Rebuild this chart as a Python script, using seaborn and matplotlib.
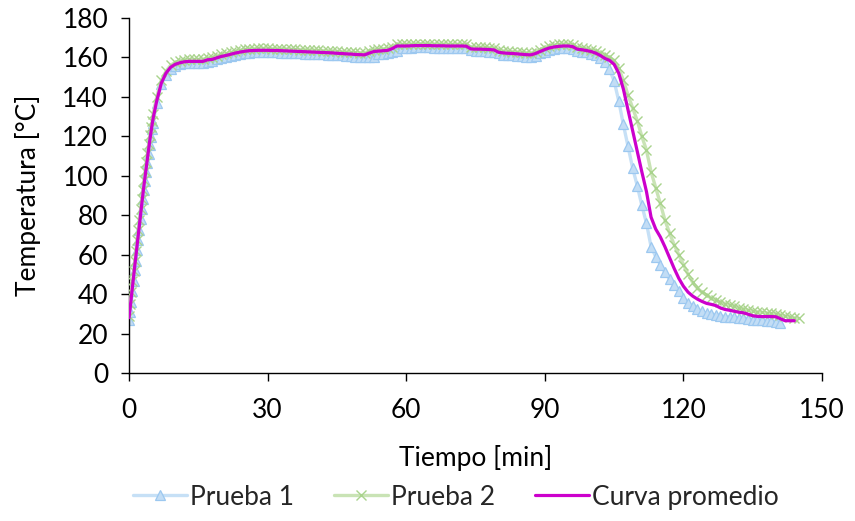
import matplotlib
matplotlib.use("Agg")
import matplotlib.pyplot as plt
import seaborn as sns
import numpy as np
import pandas as pd

# Sampling times (min): every 15 s during the heat-up, then once a minute
t_rise = [0, 0.25, 0.5, 0.75, 1.0, 1.25, 1.5, 1.75, 2.0, 2.25, 2.5,
          2.75, 3.0, 3.25, 3.5, 3.75, 4.0, 4.25, 4.5, 4.75, 5.0, 5.25]

# Temperature readings (°C) at those times
prueba_1 = [
    # heat-up, every 15 s
    27, 31, 36, 41.5, 46.5, 52, 57, 62.5, 67.5, 72.5, 78,
    83, 88, 93, 97.5, 102, 106.5, 111, 115.5, 119.5, 123.5, 127,
    # from 6 min on, one reading per minute
    137, 146.5, 151, 154,
    155.5, 156.5, 157, 157, 157, 157, 157.2, 157.5, 158, 159,
    159.5, 160, 160.6, 161.2, 161.7, 162.1, 162.4, 162.5, 162.6, 162.6,
    162.6, 162.5, 162.5, 162.4, 162.3, 162.2, 162.1, 162, 161.9, 161.8,
    161.7, 161.6, 161.5, 161.4, 161.3, 161.1, 161, 160.8, 160.6, 160.4,
    160.2, 160, 160, 160.2, 161.5, 161.8, 162.2, 162.6, 163.5, 164.8,
    165, 165, 165.1, 165.1, 165.1, 165.1, 165, 165, 165, 165,
    164.9, 164.9, 164.9, 164.8, 164, 163.2, 163.2, 163.1, 163, 162.8,
    162, 161.3, 161.1, 161, 160.8, 160.6, 160.4, 160.2, 160.8, 162,
    163, 163.8, 164.3, 164.6, 164.8, 164.8, 164.4, 163.2, 162.9, 162.5,
    161.8, 161, 159.8, 157.5, 154, 148, 138, 126, 115, 104,
    95, 85, 76, 64, 59, 55, 51, 47.5, 44.5, 41.5,
    38, 35.5, 33.8, 32.5, 31.2, 30.3, 30, 29.5, 29, 28.6,
    28.4, 28.2, 28, 27.7, 27.5, 27.1, 26.9, 26.8, 26.5, 26.2,
    25.8, 25.3,
]

prueba_2 = [
    29, 35, 41, 46.5, 51.5, 57, 62, 67.5, 72.5, 77.5, 83,
    88, 93, 98, 102.5, 107, 111.5, 116, 120.5, 124.5, 128, 131.5,
    140, 148.5, 153, 156,
    157.5, 158.3, 158.8, 159, 159, 159, 159.1, 159.8, 160, 160.8,
    161.5, 162, 162.6, 163.2, 163.7, 164.1, 164.4, 164.5, 164.6, 164.6,
    164.6, 164.5, 164.5, 164.4, 164.3, 164.2, 164.1, 164, 163.9, 163.8,
    163.7, 163.6, 163.5, 163.4, 163.3, 163.1, 163, 162.8, 162.7, 162.5,
    162.4, 162.3, 163.2, 164, 164.2, 164.4, 164.6, 165.5, 166.6, 166.7,
    166.7, 166.8, 166.9, 166.9, 166.9, 166.9, 166.8, 166.8, 166.8, 166.7,
    166.7, 166.7, 166.7, 166.6, 165.3, 165.2, 165.2, 165.1, 165, 164.8,
    163.6, 163.3, 163.1, 163, 162.8, 162.6, 162.4, 162.3, 163, 164,
    165, 165.8, 166.3, 166.6, 166.8, 166.8, 166.5, 165.2, 164.9, 164.5,
    164, 163.4, 162.4, 161.2, 160, 158.5, 154.5, 148.5, 141, 134.5,
    128, 120, 113, 102, 94, 86, 77.5, 71, 65, 60,
    55, 50, 46, 43, 41, 39.5, 38, 37, 36, 35.2,
    34.5, 34, 33.2, 32.6, 32, 31.5, 31.1, 30.8, 30.5, 30.3,
    30, 29.5, 29, 28.5, 28, 27.7,
]

curva_promedio = [
    28, 33, 38.5, 44, 49, 54.5, 59.5, 65, 70, 75, 80.5,
    85.5, 90.5, 95.5, 100, 104.5, 109, 113.5, 118, 122, 126, 129.5,
    138, 147, 152, 155,
    156.5, 157.3, 157.8, 158, 158, 158, 158, 158.8, 159, 159.8,
    160.5, 161, 161.6, 162.2, 162.7, 163.1, 163.4, 163.5, 163.6, 163.6,
    163.6, 163.5, 163.5, 163.4, 163.3, 163.2, 163.1, 163.0, 162.9, 162.8,
    162.7, 162.6, 162.5, 162.4, 162.3, 162.1, 162.0, 161.8, 161.7, 161.5,
    161.4, 161.3, 162.2, 163.0, 163.2, 163.4, 163.6, 164.5, 165.8, 165.8,
    165.8, 165.9, 166.0, 166.0, 166.0, 166.0, 165.9, 165.9, 165.9, 165.8,
    165.8, 165.8, 165.8, 165.7, 164.3, 164.2, 164.2, 164.1, 164.0, 163.8,
    162.6, 162.3, 162.1, 162.0, 161.8, 161.6, 161.4, 161.3, 162.0, 163.0,
    164.0, 164.8, 165.3, 165.6, 165.8, 165.8, 165.5, 164.2, 163.9, 163.5,
    163.0, 162.2, 161.0, 159.5, 158.5, 156.5, 152, 144, 133.5, 123,
    112.5, 102, 92, 79, 73, 69, 64, 58.5, 53, 48,
    44, 41, 39, 37.5, 36.3, 35.3, 34.8, 34.2, 33, 32.2,
    31.8, 31.3, 30.8, 30.5, 29.8, 29, 28.7, 28.6, 28.6, 28.6,
    28.5, 27.5, 26.5, 26.5, 26.5,
]

x_ticks = [0, 30, 60, 90, 120, 150]
y_ticks = list(range(0, 181, 20))


def sample_times(values):
    """Heat-up samples every 15 s, then one per minute starting at 6 min."""
    n_after = len(values) - len(t_rise)
    return t_rise + list(range(6, 6 + n_after))


sns.set_theme(style="white")
plt.rcParams["font.family"] = ["Lato", "DejaVu Sans"]

fs = 19
fig = plt.figure(figsize=(8.55, 5.21), dpi=100)
ax = fig.add_axes([0.1509, 0.2841, 0.8105, 0.6814])

df1 = pd.DataFrame({"t": sample_times(prueba_1), "T": prueba_1})
df2 = pd.DataFrame({"t": sample_times(prueba_2), "T": prueba_2})
dfm = pd.DataFrame({"t": sample_times(curva_promedio), "T": curva_promedio})

sns.lineplot(data=df1, x="t", y="T", ax=ax, color="#C6E0F6", linewidth=2.4,
             marker="^", markersize=7.5, markerfacecolor="#C2DDF5",
             markeredgecolor="#9CC8F0", markeredgewidth=0.9,
             label="Prueba 1", zorder=2)
sns.lineplot(data=df2, x="t", y="T", ax=ax, color="#C9E3B5", linewidth=2.4,
             marker="x", markersize=6.5, markeredgecolor="#A9D38C",
             markeredgewidth=1.0, label="Prueba 2", zorder=3)
sns.lineplot(data=dfm, x="t", y="T", ax=ax, color="#CC00CC", linewidth=2.3,
             label="Curva promedio", zorder=4)

ax.set_xlim(0, 150)
ax.set_ylim(0, 180)
ax.set_xticks(x_ticks)
ax.set_yticks(y_ticks)
ax.set_xticklabels([str(v) for v in x_ticks], fontsize=fs)
ax.set_yticklabels([str(v) for v in y_ticks], fontsize=fs)
ax.tick_params(axis="both", direction="out", length=6, width=1.0,
               color="black", labelcolor="black", bottom=True, left=True)
ax.tick_params(axis="y", pad=9)
ax.tick_params(axis="x", pad=12)

for side in ["top", "right"]:
    ax.spines[side].set_visible(False)
for side in ["left", "bottom"]:
    ax.spines[side].set_color("black")
    ax.spines[side].set_linewidth(1.0)

ax.set_xlabel("Tiempo [min]", fontsize=fs, color="black", labelpad=16)
ax.set_ylabel("Temperatura [°C]", fontsize=fs, color="black", labelpad=15)
ax.grid(False)

handles, labels = ax.get_legend_handles_labels()
ax.get_legend().remove()
fig.legend(handles, labels, loc="center", bbox_to_anchor=(0.533, 0.046),
           ncol=3, frameon=False, fontsize=fs, handlelength=2.05,
           columnspacing=1.5, handletextpad=0.12)

fig.savefig("out.png", dpi=100, facecolor="white")
